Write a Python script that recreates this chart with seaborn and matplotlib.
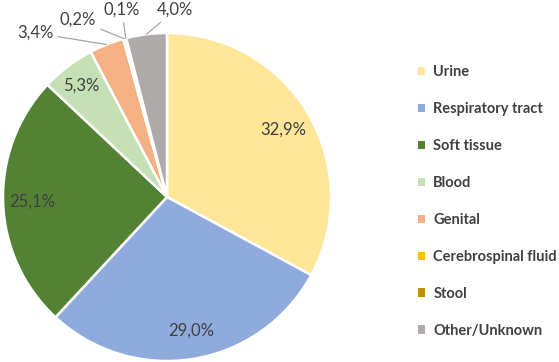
import numpy as np
import matplotlib
matplotlib.use('Agg')
import matplotlib.pyplot as plt
from matplotlib.patches import Patch
import seaborn as sns

categories = ['Urine', 'Respiratory tract', 'Soft tissue', 'Blood', 'Genital',
              'Cerebrospinal fluid', 'Stool', 'Other/Unknown']
shares = [32.9, 29.0, 25.1, 5.3, 3.4, 0.2, 0.1, 4.0]
palette = ['#FFE699', '#8FAADC', '#548235', '#C5E0B4', '#F4B183',
           '#FFC000', '#BF9000', '#AEAAAA']

# label placement (pie radius = 1), leader line for the small slices
label_pos = [(0.707, 0.409), (0.146, -0.817), (-0.82, -0.03), (-0.524, 0.677),
             (-0.805, 1.0), (-0.543, 1.079), (-0.274, 1.14), (0.049, 1.14)]
leader = [False, False, False, False, True, True, True, True]

sns.set_theme(style='white')
plt.rcParams['font.family'] = ['Lato', 'DejaVu Sans']

fig = plt.figure(figsize=(5.59, 3.62), dpi=100)
ax = fig.add_axes([3 / 559, 1 / 362, 328 / 559, 328 / 362])
colors = sns.color_palette(palette)
wedges, _ = ax.pie(shares, colors=colors, startangle=90, counterclock=False,
                   radius=1, wedgeprops=dict(edgecolor='white', linewidth=1.8))
ax.set_xlim(-1, 1)
ax.set_ylim(-1, 1)
ax.set_aspect('equal')

txt_color = '#404040'
for w, val, pos, lead in zip(wedges, shares, label_pos, leader):
    label = f'{val:.1f}'.replace('.', ',') + '%'
    if lead:
        mid = np.deg2rad((w.theta1 + w.theta2) / 2)
        ax.annotate(label, xy=(np.cos(mid), np.sin(mid)), xytext=pos,
                    ha='center', va='center', fontsize=12, color=txt_color,
                    annotation_clip=False,
                    arrowprops=dict(arrowstyle='-', color='#A6A6A6', lw=0.9,
                                    shrinkA=1, shrinkB=0))
    else:
        ax.text(pos[0], pos[1], label, ha='center', va='center',
                fontsize=12, color=txt_color)

handles = [Patch(facecolor=c, edgecolor='none') for c in colors]
leg = fig.legend(handles, categories, loc='center left',
                 bbox_to_anchor=(418 / 559, (362 - 201.5) / 362),
                 frameon=False, handlelength=0.5, handleheight=0.5,
                 handletextpad=0.55, labelspacing=1.57, borderpad=0,
                 borderaxespad=0, prop={'weight': 'bold', 'size': 10.5})
for t in leg.get_texts():
    t.set_color(txt_color)

fig.savefig('out.png', dpi=100)
